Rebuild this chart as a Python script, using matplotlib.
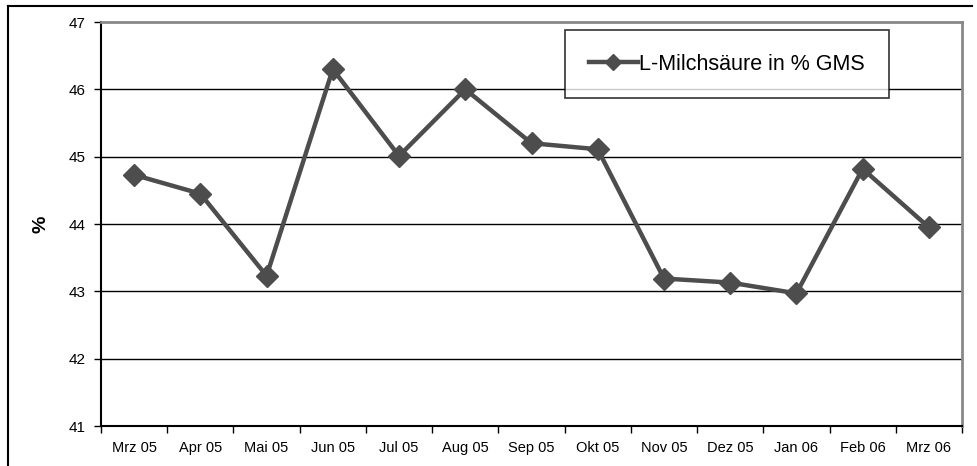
import matplotlib.pyplot as plt
from matplotlib.lines import Line2D

plt.rcParams["font.family"] = ["Liberation Sans", "DejaVu Sans"]

MONTHS = ["Mrz 05", "Apr 05", "Mai 05", "Jun 05", "Jul 05", "Aug 05", "Sep 05",
          "Okt 05", "Nov 05", "Dez 05", "Jan 06", "Feb 06", "Mrz 06"]
LACTIC = [44.73, 44.45, 43.23, 46.30, 45.01, 46.00, 45.20,
          45.11, 43.19, 43.13, 42.97, 44.82, 43.95]
YTICKS = [41, 42, 43, 44, 45, 46, 47]

W, H = 977, 466
fig = plt.figure(figsize=(W / 100, H / 100), dpi=100)
ax = fig.add_axes([101 / W, 1 - 426 / H, (962 - 101) / W, (426 - 22) / H])

x = list(range(len(MONTHS)))
ax.plot(x, LACTIC, color="#4d4d4d", lw=3.2, marker="D", ms=11,
        mfc="#4d4d4d", mec="#4d4d4d", label="L-Milchsäure in % GMS", zorder=3)

ax.set_xlim(-0.5, len(MONTHS) - 0.5)
ax.set_ylim(41, 47)
ax.set_yticks(YTICKS)
ax.set_yticklabels([str(v) for v in YTICKS], fontsize=11)
ax.set_xticks(x)
ax.set_xticklabels(MONTHS, fontsize=10.5)
ax.set_xticks([i - 0.5 for i in range(len(MONTHS) + 1)], minor=True)
ax.tick_params(axis="x", which="major", length=0, pad=11)
ax.tick_params(axis="x", which="minor", length=5, width=1, direction="out")
ax.tick_params(axis="y", length=5, width=1, direction="out", pad=6)

for v in YTICKS[1:-1]:
    ax.axhline(v, color="black", lw=1, zorder=1)

ax.spines["left"].set_color("black")
ax.spines["bottom"].set_color("black")
ax.spines["left"].set_linewidth(1.5)
ax.spines["bottom"].set_linewidth(1.5)
ax.spines["top"].set_color("#888888")
ax.spines["right"].set_color("#888888")
ax.spines["top"].set_linewidth(2)
ax.spines["right"].set_linewidth(2)

ax.set_ylabel("%", fontsize=14, fontweight="bold", labelpad=14)

leg = ax.legend(loc="upper left", bbox_to_anchor=(565 / W, 1 - 30 / H),
                bbox_transform=fig.transFigure, borderaxespad=0,
                fontsize=15.5, frameon=True, fancybox=False, shadow=False,
                handlelength=2.3, handletextpad=0.05, borderpad=1.1)
leg.get_frame().set_edgecolor("black")
leg.get_frame().set_linewidth(1.2)
leg.legend_handles[0].set_markersize(8)

# outer chart frame
fig.add_artist(Line2D([8 / W, 972 / W], [1 - 6 / H, 1 - 6 / H],
                      transform=fig.transFigure, color="black", lw=1.5))
fig.add_artist(Line2D([8 / W, 8 / W], [1 - 6 / H, 0],
                      transform=fig.transFigure, color="black", lw=1.5))

fig.savefig("out.png", dpi=100)
